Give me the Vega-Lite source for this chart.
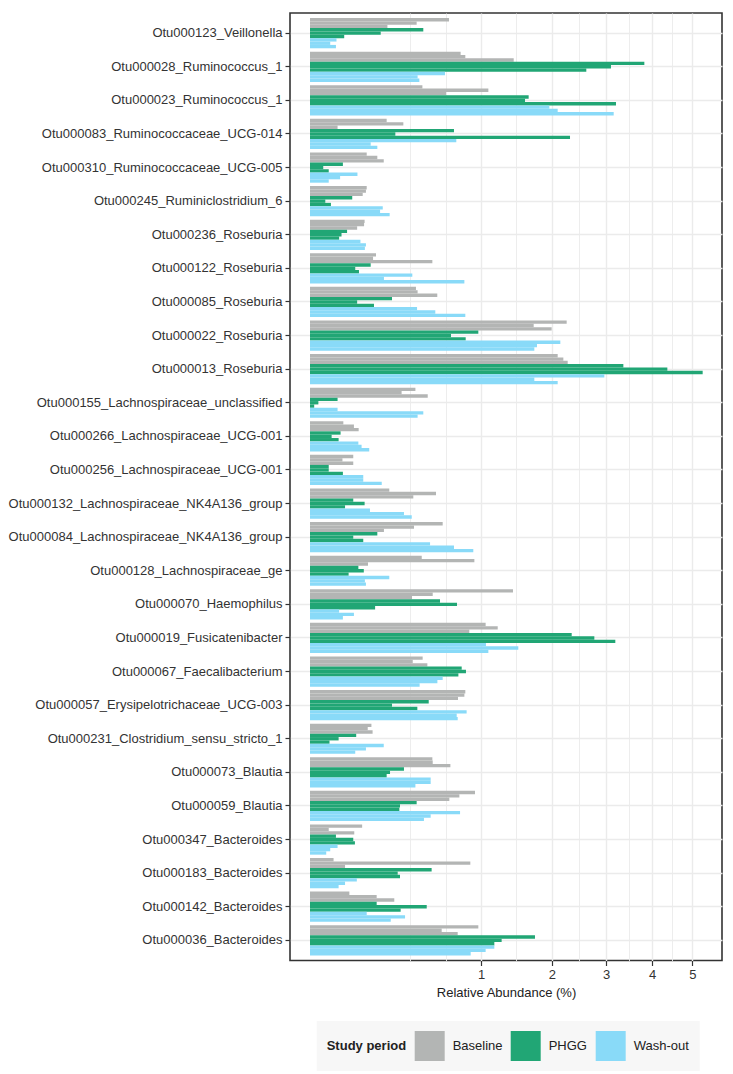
{
  "$schema": "https://vega.github.io/schema/vega-lite/v6.json",
  "width": 432,
  "height": 947.5,
  "autosize": {"type": "none"},
  "padding": {"left": 290, "top": 13, "right": 11, "bottom": 113.5},
  "background": "white",
  "data": {"values": [
    {"otu":"Otu000123_Veillonella","period":"Baseline","sample":"Baseline 1","value":0.661},
    {"otu":"Otu000123_Veillonella","period":"Baseline","sample":"Baseline 2","value":0.389},
    {"otu":"Otu000123_Veillonella","period":"Baseline","sample":"Baseline 3","value":0.205},
    {"otu":"Otu000123_Veillonella","period":"PHGG","sample":"PHGG 1","value":0.439},
    {"otu":"Otu000123_Veillonella","period":"PHGG","sample":"PHGG 2","value":0.171},
    {"otu":"Otu000123_Veillonella","period":"PHGG","sample":"PHGG 3","value":0.040},
    {"otu":"Otu000123_Veillonella","period":"Wash-out","sample":"Wash-out 1","value":0.024},
    {"otu":"Otu000123_Veillonella","period":"Wash-out","sample":"Wash-out 2","value":0.014},
    {"otu":"Otu000123_Veillonella","period":"Wash-out","sample":"Wash-out 3","value":0.023},

    {"otu":"Otu000028_Ruminococcus_1","period":"Baseline","sample":"Baseline 1","value":0.776},
    {"otu":"Otu000028_Ruminococcus_1","period":"Baseline","sample":"Baseline 2","value":0.825},
    {"otu":"Otu000028_Ruminococcus_1","period":"Baseline","sample":"Baseline 3","value":1.419},
    {"otu":"Otu000028_Ruminococcus_1","period":"PHGG","sample":"PHGG 1","value":3.823},
    {"otu":"Otu000028_Ruminococcus_1","period":"PHGG","sample":"PHGG 2","value":3.098},
    {"otu":"Otu000028_Ruminococcus_1","period":"PHGG","sample":"PHGG 3","value":2.611},
    {"otu":"Otu000028_Ruminococcus_1","period":"Wash-out","sample":"Wash-out 1","value":0.623},
    {"otu":"Otu000028_Ruminococcus_1","period":"Wash-out","sample":"Wash-out 2","value":0.396},
    {"otu":"Otu000028_Ruminococcus_1","period":"Wash-out","sample":"Wash-out 3","value":0.409},

    {"otu":"Otu000023_Ruminococcus_1","period":"Baseline","sample":"Baseline 1","value":0.432},
    {"otu":"Otu000023_Ruminococcus_1","period":"Baseline","sample":"Baseline 2","value":1.088},
    {"otu":"Otu000023_Ruminococcus_1","period":"Baseline","sample":"Baseline 3","value":0.633},
    {"otu":"Otu000023_Ruminococcus_1","period":"PHGG","sample":"PHGG 1","value":1.635},
    {"otu":"Otu000023_Ruminococcus_1","period":"PHGG","sample":"PHGG 2","value":1.581},
    {"otu":"Otu000023_Ruminococcus_1","period":"PHGG","sample":"PHGG 3","value":3.202},
    {"otu":"Otu000023_Ruminococcus_1","period":"Wash-out","sample":"Wash-out 1","value":1.959},
    {"otu":"Otu000023_Ruminococcus_1","period":"Wash-out","sample":"Wash-out 2","value":2.098},
    {"otu":"Otu000023_Ruminococcus_1","period":"Wash-out","sample":"Wash-out 3","value":3.154},

    {"otu":"Otu000083_Ruminococcaceae_UCG-014","period":"Baseline","sample":"Baseline 1","value":0.201},
    {"otu":"Otu000083_Ruminococcaceae_UCG-014","period":"Baseline","sample":"Baseline 2","value":0.298},
    {"otu":"Otu000083_Ruminococcaceae_UCG-014","period":"Baseline","sample":"Baseline 3","value":0.026},
    {"otu":"Otu000083_Ruminococcaceae_UCG-014","period":"PHGG","sample":"PHGG 1","value":0.709},
    {"otu":"Otu000083_Ruminococcaceae_UCG-014","period":"PHGG","sample":"PHGG 2","value":0.249},
    {"otu":"Otu000083_Ruminococcaceae_UCG-014","period":"PHGG","sample":"PHGG 3","value":2.312},
    {"otu":"Otu000083_Ruminococcaceae_UCG-014","period":"Wash-out","sample":"Wash-out 1","value":0.732},
    {"otu":"Otu000083_Ruminococcaceae_UCG-014","period":"Wash-out","sample":"Wash-out 2","value":0.126},
    {"otu":"Otu000083_Ruminococcaceae_UCG-014","period":"Wash-out","sample":"Wash-out 3","value":0.155},

    {"otu":"Otu000310_Ruminococcaceae_UCG-005","period":"Baseline","sample":"Baseline 1","value":0.110},
    {"otu":"Otu000310_Ruminococcaceae_UCG-005","period":"Baseline","sample":"Baseline 2","value":0.155},
    {"otu":"Otu000310_Ruminococcaceae_UCG-005","period":"Baseline","sample":"Baseline 3","value":0.186},
    {"otu":"Otu000310_Ruminococcaceae_UCG-005","period":"PHGG","sample":"PHGG 1","value":0.037},
    {"otu":"Otu000310_Ruminococcaceae_UCG-005","period":"PHGG","sample":"PHGG 2","value":0.006},
    {"otu":"Otu000310_Ruminococcaceae_UCG-005","period":"PHGG","sample":"PHGG 3","value":0.012},
    {"otu":"Otu000310_Ruminococcaceae_UCG-005","period":"Wash-out","sample":"Wash-out 1","value":0.077},
    {"otu":"Otu000310_Ruminococcaceae_UCG-005","period":"Wash-out","sample":"Wash-out 2","value":0.031},
    {"otu":"Otu000310_Ruminococcaceae_UCG-005","period":"Wash-out","sample":"Wash-out 3","value":0.012},

    {"otu":"Otu000245_Ruminiclostridium_6","period":"Baseline","sample":"Baseline 1","value":0.110},
    {"otu":"Otu000245_Ruminiclostridium_6","period":"Baseline","sample":"Baseline 2","value":0.107},
    {"otu":"Otu000245_Ruminiclostridium_6","period":"Baseline","sample":"Baseline 3","value":0.095},
    {"otu":"Otu000245_Ruminiclostridium_6","period":"PHGG","sample":"PHGG 1","value":0.061},
    {"otu":"Otu000245_Ruminiclostridium_6","period":"PHGG","sample":"PHGG 2","value":0.008},
    {"otu":"Otu000245_Ruminiclostridium_6","period":"PHGG","sample":"PHGG 3","value":0.015},
    {"otu":"Otu000245_Ruminiclostridium_6","period":"Wash-out","sample":"Wash-out 1","value":0.181},
    {"otu":"Otu000245_Ruminiclostridium_6","period":"Wash-out","sample":"Wash-out 2","value":0.168},
    {"otu":"Otu000245_Ruminiclostridium_6","period":"Wash-out","sample":"Wash-out 3","value":0.217},

    {"otu":"Otu000236_Roseburia","period":"Baseline","sample":"Baseline 1","value":0.102},
    {"otu":"Otu000236_Roseburia","period":"Baseline","sample":"Baseline 2","value":0.100},
    {"otu":"Otu000236_Roseburia","period":"Baseline","sample":"Baseline 3","value":0.076},
    {"otu":"Otu000236_Roseburia","period":"PHGG","sample":"PHGG 1","value":0.047},
    {"otu":"Otu000236_Roseburia","period":"PHGG","sample":"PHGG 2","value":0.034},
    {"otu":"Otu000236_Roseburia","period":"PHGG","sample":"PHGG 3","value":0.029},
    {"otu":"Otu000236_Roseburia","period":"Wash-out","sample":"Wash-out 1","value":0.087},
    {"otu":"Otu000236_Roseburia","period":"Wash-out","sample":"Wash-out 2","value":0.107},
    {"otu":"Otu000236_Roseburia","period":"Wash-out","sample":"Wash-out 3","value":0.103},

    {"otu":"Otu000122_Roseburia","period":"Baseline","sample":"Baseline 1","value":0.149},
    {"otu":"Otu000122_Roseburia","period":"Baseline","sample":"Baseline 2","value":0.136},
    {"otu":"Otu000122_Roseburia","period":"Baseline","sample":"Baseline 3","value":0.512},
    {"otu":"Otu000122_Roseburia","period":"PHGG","sample":"PHGG 1","value":0.126},
    {"otu":"Otu000122_Roseburia","period":"PHGG","sample":"PHGG 2","value":0.070},
    {"otu":"Otu000122_Roseburia","period":"PHGG","sample":"PHGG 3","value":0.082},
    {"otu":"Otu000122_Roseburia","period":"Wash-out","sample":"Wash-out 1","value":0.358},
    {"otu":"Otu000122_Roseburia","period":"Wash-out","sample":"Wash-out 2","value":0.187},
    {"otu":"Otu000122_Roseburia","period":"Wash-out","sample":"Wash-out 3","value":0.815},

    {"otu":"Otu000085_Roseburia","period":"Baseline","sample":"Baseline 1","value":0.384},
    {"otu":"Otu000085_Roseburia","period":"Baseline","sample":"Baseline 2","value":0.396},
    {"otu":"Otu000085_Roseburia","period":"Baseline","sample":"Baseline 3","value":0.554},
    {"otu":"Otu000085_Roseburia","period":"PHGG","sample":"PHGG 1","value":0.230},
    {"otu":"Otu000085_Roseburia","period":"PHGG","sample":"PHGG 2","value":0.076},
    {"otu":"Otu000085_Roseburia","period":"PHGG","sample":"PHGG 3","value":0.140},
    {"otu":"Otu000085_Roseburia","period":"Wash-out","sample":"Wash-out 1","value":0.392},
    {"otu":"Otu000085_Roseburia","period":"Wash-out","sample":"Wash-out 2","value":0.537},
    {"otu":"Otu000085_Roseburia","period":"Wash-out","sample":"Wash-out 3","value":0.825},

    {"otu":"Otu000022_Roseburia","period":"Baseline","sample":"Baseline 1","value":2.253},
    {"otu":"Otu000022_Roseburia","period":"Baseline","sample":"Baseline 2","value":1.711},
    {"otu":"Otu000022_Roseburia","period":"Baseline","sample":"Baseline 3","value":1.997},
    {"otu":"Otu000022_Roseburia","period":"PHGG","sample":"PHGG 1","value":0.969},
    {"otu":"Otu000022_Roseburia","period":"PHGG","sample":"PHGG 2","value":0.680},
    {"otu":"Otu000022_Roseburia","period":"PHGG","sample":"PHGG 3","value":0.829},
    {"otu":"Otu000022_Roseburia","period":"Wash-out","sample":"Wash-out 1","value":2.143},
    {"otu":"Otu000022_Roseburia","period":"Wash-out","sample":"Wash-out 2","value":1.762},
    {"otu":"Otu000022_Roseburia","period":"Wash-out","sample":"Wash-out 3","value":1.721},

    {"otu":"Otu000013_Roseburia","period":"Baseline","sample":"Baseline 1","value":2.098},
    {"otu":"Otu000013_Roseburia","period":"Baseline","sample":"Baseline 2","value":2.195},
    {"otu":"Otu000013_Roseburia","period":"Baseline","sample":"Baseline 3","value":2.271},
    {"otu":"Otu000013_Roseburia","period":"PHGG","sample":"PHGG 1","value":3.358},
    {"otu":"Otu000013_Roseburia","period":"PHGG","sample":"PHGG 2","value":4.367},
    {"otu":"Otu000013_Roseburia","period":"PHGG","sample":"PHGG 3","value":5.273},
    {"otu":"Otu000013_Roseburia","period":"Wash-out","sample":"Wash-out 1","value":2.963},
    {"otu":"Otu000013_Roseburia","period":"Wash-out","sample":"Wash-out 2","value":1.721},
    {"otu":"Otu000013_Roseburia","period":"Wash-out","sample":"Wash-out 3","value":2.098},

    {"otu":"Otu000155_Lachnospiraceae_unclassified","period":"Baseline","sample":"Baseline 1","value":0.380},
    {"otu":"Otu000155_Lachnospiraceae_unclassified","period":"Baseline","sample":"Baseline 2","value":0.287},
    {"otu":"Otu000155_Lachnospiraceae_unclassified","period":"Baseline","sample":"Baseline 3","value":0.474},
    {"otu":"Otu000155_Lachnospiraceae_unclassified","period":"PHGG","sample":"PHGG 1","value":0.026},
    {"otu":"Otu000155_Lachnospiraceae_unclassified","period":"PHGG","sample":"PHGG 2","value":0.0024},
    {"otu":"Otu000155_Lachnospiraceae_unclassified","period":"PHGG","sample":"PHGG 3","value":0.0006},
    {"otu":"Otu000155_Lachnospiraceae_unclassified","period":"Wash-out","sample":"Wash-out 1","value":0.026},
    {"otu":"Otu000155_Lachnospiraceae_unclassified","period":"Wash-out","sample":"Wash-out 2","value":0.439},
    {"otu":"Otu000155_Lachnospiraceae_unclassified","period":"Wash-out","sample":"Wash-out 3","value":0.396},

    {"otu":"Otu000266_Lachnospiraceae_UCG-001","period":"Baseline","sample":"Baseline 1","value":0.038},
    {"otu":"Otu000266_Lachnospiraceae_UCG-001","period":"Baseline","sample":"Baseline 2","value":0.066},
    {"otu":"Otu000266_Lachnospiraceae_UCG-001","period":"Baseline","sample":"Baseline 3","value":0.081},
    {"otu":"Otu000266_Lachnospiraceae_UCG-001","period":"PHGG","sample":"PHGG 1","value":0.032},
    {"otu":"Otu000266_Lachnospiraceae_UCG-001","period":"PHGG","sample":"PHGG 2","value":0.016},
    {"otu":"Otu000266_Lachnospiraceae_UCG-001","period":"PHGG","sample":"PHGG 3","value":0.028},
    {"otu":"Otu000266_Lachnospiraceae_UCG-001","period":"Wash-out","sample":"Wash-out 1","value":0.080},
    {"otu":"Otu000266_Lachnospiraceae_UCG-001","period":"Wash-out","sample":"Wash-out 2","value":0.091},
    {"otu":"Otu000266_Lachnospiraceae_UCG-001","period":"Wash-out","sample":"Wash-out 3","value":0.120},

    {"otu":"Otu000256_Lachnospiraceae_UCG-001","period":"Baseline","sample":"Baseline 1","value":0.064},
    {"otu":"Otu000256_Lachnospiraceae_UCG-001","period":"Baseline","sample":"Baseline 2","value":0.036},
    {"otu":"Otu000256_Lachnospiraceae_UCG-001","period":"Baseline","sample":"Baseline 3","value":0.064},
    {"otu":"Otu000256_Lachnospiraceae_UCG-001","period":"PHGG","sample":"PHGG 1","value":0.012},
    {"otu":"Otu000256_Lachnospiraceae_UCG-001","period":"PHGG","sample":"PHGG 2","value":0.012},
    {"otu":"Otu000256_Lachnospiraceae_UCG-001","period":"PHGG","sample":"PHGG 3","value":0.037},
    {"otu":"Otu000256_Lachnospiraceae_UCG-001","period":"Wash-out","sample":"Wash-out 1","value":0.097},
    {"otu":"Otu000256_Lachnospiraceae_UCG-001","period":"Wash-out","sample":"Wash-out 2","value":0.097},
    {"otu":"Otu000256_Lachnospiraceae_UCG-001","period":"Wash-out","sample":"Wash-out 3","value":0.176},

    {"otu":"Otu000132_Lachnospiraceae_NK4A136_group","period":"Baseline","sample":"Baseline 1","value":0.215},
    {"otu":"Otu000132_Lachnospiraceae_NK4A136_group","period":"Baseline","sample":"Baseline 2","value":0.543},
    {"otu":"Otu000132_Lachnospiraceae_NK4A136_group","period":"Baseline","sample":"Baseline 3","value":0.365},
    {"otu":"Otu000132_Lachnospiraceae_NK4A136_group","period":"PHGG","sample":"PHGG 1","value":0.064},
    {"otu":"Otu000132_Lachnospiraceae_NK4A136_group","period":"PHGG","sample":"PHGG 2","value":0.102},
    {"otu":"Otu000132_Lachnospiraceae_NK4A136_group","period":"PHGG","sample":"PHGG 3","value":0.042},
    {"otu":"Otu000132_Lachnospiraceae_NK4A136_group","period":"Wash-out","sample":"Wash-out 1","value":0.123},
    {"otu":"Otu000132_Lachnospiraceae_NK4A136_group","period":"Wash-out","sample":"Wash-out 2","value":0.302},
    {"otu":"Otu000132_Lachnospiraceae_NK4A136_group","period":"Wash-out","sample":"Wash-out 3","value":0.354},

    {"otu":"Otu000084_Lachnospiraceae_NK4A136_group","period":"Baseline","sample":"Baseline 1","value":0.602},
    {"otu":"Otu000084_Lachnospiraceae_NK4A136_group","period":"Baseline","sample":"Baseline 2","value":0.370},
    {"otu":"Otu000084_Lachnospiraceae_NK4A136_group","period":"Baseline","sample":"Baseline 3","value":0.187},
    {"otu":"Otu000084_Lachnospiraceae_NK4A136_group","period":"PHGG","sample":"PHGG 1","value":0.155},
    {"otu":"Otu000084_Lachnospiraceae_NK4A136_group","period":"PHGG","sample":"PHGG 2","value":0.064},
    {"otu":"Otu000084_Lachnospiraceae_NK4A136_group","period":"PHGG","sample":"PHGG 3","value":0.097},
    {"otu":"Otu000084_Lachnospiraceae_NK4A136_group","period":"Wash-out","sample":"Wash-out 1","value":0.493},
    {"otu":"Otu000084_Lachnospiraceae_NK4A136_group","period":"Wash-out","sample":"Wash-out 2","value":0.709},
    {"otu":"Otu000084_Lachnospiraceae_NK4A136_group","period":"Wash-out","sample":"Wash-out 3","value":0.912},

    {"otu":"Otu000128_Lachnospiraceae_ge","period":"Baseline","sample":"Baseline 1","value":0.427},
    {"otu":"Otu000128_Lachnospiraceae_ge","period":"Baseline","sample":"Baseline 2","value":0.924},
    {"otu":"Otu000128_Lachnospiraceae_ge","period":"Baseline","sample":"Baseline 3","value":0.115},
    {"otu":"Otu000128_Lachnospiraceae_ge","period":"PHGG","sample":"PHGG 1","value":0.080},
    {"otu":"Otu000128_Lachnospiraceae_ge","period":"PHGG","sample":"PHGG 2","value":0.099},
    {"otu":"Otu000128_Lachnospiraceae_ge","period":"PHGG","sample":"PHGG 3","value":0.051},
    {"otu":"Otu000128_Lachnospiraceae_ge","period":"Wash-out","sample":"Wash-out 1","value":0.215},
    {"otu":"Otu000128_Lachnospiraceae_ge","period":"Wash-out","sample":"Wash-out 2","value":0.103},
    {"otu":"Otu000128_Lachnospiraceae_ge","period":"Wash-out","sample":"Wash-out 3","value":0.107},

    {"otu":"Otu000070_Haemophilus","period":"Baseline","sample":"Baseline 1","value":1.409},
    {"otu":"Otu000070_Haemophilus","period":"Baseline","sample":"Baseline 2","value":0.515},
    {"otu":"Otu000070_Haemophilus","period":"Baseline","sample":"Baseline 3","value":0.356},
    {"otu":"Otu000070_Haemophilus","period":"PHGG","sample":"PHGG 1","value":0.578},
    {"otu":"Otu000070_Haemophilus","period":"PHGG","sample":"PHGG 2","value":0.739},
    {"otu":"Otu000070_Haemophilus","period":"PHGG","sample":"PHGG 3","value":0.145},
    {"otu":"Otu000070_Haemophilus","period":"Wash-out","sample":"Wash-out 1","value":0.029},
    {"otu":"Otu000070_Haemophilus","period":"Wash-out","sample":"Wash-out 2","value":0.066},
    {"otu":"Otu000070_Haemophilus","period":"Wash-out","sample":"Wash-out 3","value":0.037},

    {"otu":"Otu000019_Fusicatenibacter","period":"Baseline","sample":"Baseline 1","value":1.055},
    {"otu":"Otu000019_Fusicatenibacter","period":"Baseline","sample":"Baseline 2","value":1.205},
    {"otu":"Otu000019_Fusicatenibacter","period":"Baseline","sample":"Baseline 3","value":0.868},
    {"otu":"Otu000019_Fusicatenibacter","period":"PHGG","sample":"PHGG 1","value":2.342},
    {"otu":"Otu000019_Fusicatenibacter","period":"PHGG","sample":"PHGG 2","value":2.765},
    {"otu":"Otu000019_Fusicatenibacter","period":"PHGG","sample":"PHGG 3","value":3.188},
    {"otu":"Otu000019_Fusicatenibacter","period":"Wash-out","sample":"Wash-out 1","value":1.059},
    {"otu":"Otu000019_Fusicatenibacter","period":"Wash-out","sample":"Wash-out 2","value":1.484},
    {"otu":"Otu000019_Fusicatenibacter","period":"Wash-out","sample":"Wash-out 3","value":1.088},

    {"otu":"Otu000067_Faecalibacterium","period":"Baseline","sample":"Baseline 1","value":0.434},
    {"otu":"Otu000067_Faecalibacterium","period":"Baseline","sample":"Baseline 2","value":0.361},
    {"otu":"Otu000067_Faecalibacterium","period":"Baseline","sample":"Baseline 3","value":0.471},
    {"otu":"Otu000067_Faecalibacterium","period":"PHGG","sample":"PHGG 1","value":0.787},
    {"otu":"Otu000067_Faecalibacterium","period":"PHGG","sample":"PHGG 2","value":0.832},
    {"otu":"Otu000067_Faecalibacterium","period":"PHGG","sample":"PHGG 3","value":0.753},
    {"otu":"Otu000067_Faecalibacterium","period":"Wash-out","sample":"Wash-out 1","value":0.602},
    {"otu":"Otu000067_Faecalibacterium","period":"Wash-out","sample":"Wash-out 2","value":0.555},
    {"otu":"Otu000067_Faecalibacterium","period":"Wash-out","sample":"Wash-out 3","value":0.411},

    {"otu":"Otu000057_Erysipelotrichaceae_UCG-003","period":"Baseline","sample":"Baseline 1","value":0.825},
    {"otu":"Otu000057_Erysipelotrichaceae_UCG-003","period":"Baseline","sample":"Baseline 2","value":0.815},
    {"otu":"Otu000057_Erysipelotrichaceae_UCG-003","period":"Baseline","sample":"Baseline 3","value":0.749},
    {"otu":"Otu000057_Erysipelotrichaceae_UCG-003","period":"PHGG","sample":"PHGG 1","value":0.482},
    {"otu":"Otu000057_Erysipelotrichaceae_UCG-003","period":"PHGG","sample":"PHGG 2","value":0.230},
    {"otu":"Otu000057_Erysipelotrichaceae_UCG-003","period":"PHGG","sample":"PHGG 3","value":0.394},
    {"otu":"Otu000057_Erysipelotrichaceae_UCG-003","period":"Wash-out","sample":"Wash-out 1","value":0.839},
    {"otu":"Otu000057_Erysipelotrichaceae_UCG-003","period":"Wash-out","sample":"Wash-out 2","value":0.736},
    {"otu":"Otu000057_Erysipelotrichaceae_UCG-003","period":"Wash-out","sample":"Wash-out 3","value":0.746},

    {"otu":"Otu000231_Clostridium_sensu_stricto_1","period":"Baseline","sample":"Baseline 1","value":0.129},
    {"otu":"Otu000231_Clostridium_sensu_stricto_1","period":"Baseline","sample":"Baseline 2","value":0.114},
    {"otu":"Otu000231_Clostridium_sensu_stricto_1","period":"Baseline","sample":"Baseline 3","value":0.134},
    {"otu":"Otu000231_Clostridium_sensu_stricto_1","period":"PHGG","sample":"PHGG 1","value":0.073},
    {"otu":"Otu000231_Clostridium_sensu_stricto_1","period":"PHGG","sample":"PHGG 2","value":0.028},
    {"otu":"Otu000231_Clostridium_sensu_stricto_1","period":"PHGG","sample":"PHGG 3","value":0.013},
    {"otu":"Otu000231_Clostridium_sensu_stricto_1","period":"Wash-out","sample":"Wash-out 1","value":0.186},
    {"otu":"Otu000231_Clostridium_sensu_stricto_1","period":"Wash-out","sample":"Wash-out 2","value":0.107},
    {"otu":"Otu000231_Clostridium_sensu_stricto_1","period":"Wash-out","sample":"Wash-out 3","value":0.070},

    {"otu":"Otu000073_Blautia","period":"Baseline","sample":"Baseline 1","value":0.512},
    {"otu":"Otu000073_Blautia","period":"Baseline","sample":"Baseline 2","value":0.515},
    {"otu":"Otu000073_Blautia","period":"Baseline","sample":"Baseline 3","value":0.674},
    {"otu":"Otu000073_Blautia","period":"PHGG","sample":"PHGG 1","value":0.302},
    {"otu":"Otu000073_Blautia","period":"PHGG","sample":"PHGG 2","value":0.219},
    {"otu":"Otu000073_Blautia","period":"PHGG","sample":"PHGG 3","value":0.201},
    {"otu":"Otu000073_Blautia","period":"Wash-out","sample":"Wash-out 1","value":0.498},
    {"otu":"Otu000073_Blautia","period":"Wash-out","sample":"Wash-out 2","value":0.498},
    {"otu":"Otu000073_Blautia","period":"Wash-out","sample":"Wash-out 3","value":0.380},

    {"otu":"Otu000059_Blautia","period":"Baseline","sample":"Baseline 1","value":0.931},
    {"otu":"Otu000059_Blautia","period":"Baseline","sample":"Baseline 2","value":0.763},
    {"otu":"Otu000059_Blautia","period":"Baseline","sample":"Baseline 3","value":0.664},
    {"otu":"Otu000059_Blautia","period":"PHGG","sample":"PHGG 1","value":0.389},
    {"otu":"Otu000059_Blautia","period":"PHGG","sample":"PHGG 2","value":0.277},
    {"otu":"Otu000059_Blautia","period":"PHGG","sample":"PHGG 3","value":0.273},
    {"otu":"Otu000059_Blautia","period":"Wash-out","sample":"Wash-out 1","value":0.770},
    {"otu":"Otu000059_Blautia","period":"Wash-out","sample":"Wash-out 2","value":0.498},
    {"otu":"Otu000059_Blautia","period":"Wash-out","sample":"Wash-out 3","value":0.444},

    {"otu":"Otu000347_Bacteroides","period":"Baseline","sample":"Baseline 1","value":0.093},
    {"otu":"Otu000347_Bacteroides","period":"Baseline","sample":"Baseline 2","value":0.012},
    {"otu":"Otu000347_Bacteroides","period":"Baseline","sample":"Baseline 3","value":0.067},
    {"otu":"Otu000347_Bacteroides","period":"PHGG","sample":"PHGG 1","value":0.023},
    {"otu":"Otu000347_Bacteroides","period":"PHGG","sample":"PHGG 2","value":0.064},
    {"otu":"Otu000347_Bacteroides","period":"PHGG","sample":"PHGG 3","value":0.069},
    {"otu":"Otu000347_Bacteroides","period":"Wash-out","sample":"Wash-out 1","value":0.026},
    {"otu":"Otu000347_Bacteroides","period":"Wash-out","sample":"Wash-out 2","value":0.014},
    {"otu":"Otu000347_Bacteroides","period":"Wash-out","sample":"Wash-out 3","value":0.009},

    {"otu":"Otu000183_Bacteroides","period":"Baseline","sample":"Baseline 1","value":0.019},
    {"otu":"Otu000183_Bacteroides","period":"Baseline","sample":"Baseline 2","value":0.879},
    {"otu":"Otu000183_Bacteroides","period":"Baseline","sample":"Baseline 3","value":0.042},
    {"otu":"Otu000183_Bacteroides","period":"PHGG","sample":"PHGG 1","value":0.506},
    {"otu":"Otu000183_Bacteroides","period":"PHGG","sample":"PHGG 2","value":0.263},
    {"otu":"Otu000183_Bacteroides","period":"PHGG","sample":"PHGG 3","value":0.277},
    {"otu":"Otu000183_Bacteroides","period":"Wash-out","sample":"Wash-out 1","value":0.075},
    {"otu":"Otu000183_Bacteroides","period":"Wash-out","sample":"Wash-out 2","value":0.042},
    {"otu":"Otu000183_Bacteroides","period":"Wash-out","sample":"Wash-out 3","value":0.028},

    {"otu":"Otu000142_Bacteroides","period":"Baseline","sample":"Baseline 1","value":0.053},
    {"otu":"Otu000142_Bacteroides","period":"Baseline","sample":"Baseline 2","value":0.152},
    {"otu":"Otu000142_Bacteroides","period":"Baseline","sample":"Baseline 3","value":0.243},
    {"otu":"Otu000142_Bacteroides","period":"PHGG","sample":"PHGG 1","value":0.152},
    {"otu":"Otu000142_Bacteroides","period":"PHGG","sample":"PHGG 2","value":0.466},
    {"otu":"Otu000142_Bacteroides","period":"PHGG","sample":"PHGG 3","value":0.281},
    {"otu":"Otu000142_Bacteroides","period":"Wash-out","sample":"Wash-out 1","value":0.110},
    {"otu":"Otu000142_Bacteroides","period":"Wash-out","sample":"Wash-out 2","value":0.309},
    {"otu":"Otu000142_Bacteroides","period":"Wash-out","sample":"Wash-out 3","value":0.223},

    {"otu":"Otu000036_Bacteroides","period":"Baseline","sample":"Baseline 1","value":0.969},
    {"otu":"Otu000036_Bacteroides","period":"Baseline","sample":"Baseline 2","value":0.593},
    {"otu":"Otu000036_Bacteroides","period":"Baseline","sample":"Baseline 3","value":0.746},
    {"otu":"Otu000036_Bacteroides","period":"PHGG","sample":"PHGG 1","value":1.731},
    {"otu":"Otu000036_Bacteroides","period":"PHGG","sample":"PHGG 2","value":1.256},
    {"otu":"Otu000036_Bacteroides","period":"PHGG","sample":"PHGG 3","value":1.162},
    {"otu":"Otu000036_Bacteroides","period":"Wash-out","sample":"Wash-out 1","value":1.162},
    {"otu":"Otu000036_Bacteroides","period":"Wash-out","sample":"Wash-out 2","value":1.055},
    {"otu":"Otu000036_Bacteroides","period":"Wash-out","sample":"Wash-out 3","value":0.883}
  ]},
  "mark": {"type": "bar"},
  "encoding": {
    "y": {
      "field": "otu", "type": "nominal",
      "sort": ["Otu000123_Veillonella","Otu000028_Ruminococcus_1","Otu000023_Ruminococcus_1","Otu000083_Ruminococcaceae_UCG-014","Otu000310_Ruminococcaceae_UCG-005","Otu000245_Ruminiclostridium_6","Otu000236_Roseburia","Otu000122_Roseburia","Otu000085_Roseburia","Otu000022_Roseburia","Otu000013_Roseburia","Otu000155_Lachnospiraceae_unclassified","Otu000266_Lachnospiraceae_UCG-001","Otu000256_Lachnospiraceae_UCG-001","Otu000132_Lachnospiraceae_NK4A136_group","Otu000084_Lachnospiraceae_NK4A136_group","Otu000128_Lachnospiraceae_ge","Otu000070_Haemophilus","Otu000019_Fusicatenibacter","Otu000067_Faecalibacterium","Otu000057_Erysipelotrichaceae_UCG-003","Otu000231_Clostridium_sensu_stricto_1","Otu000073_Blautia","Otu000059_Blautia","Otu000347_Bacteroides","Otu000183_Bacteroides","Otu000142_Bacteroides","Otu000036_Bacteroides"],
      "scale": {"paddingInner": 0.1, "paddingOuter": 0.15},
      "axis": {
        "title": null, "bandPosition": 0.5, "grid": true, "gridColor": "#EBEBEB", "gridWidth": 1.4,
        "domain": false, "tickSize": 5, "tickColor": "#333333", "tickWidth": 1.2,
        "labelFontSize": 13, "labelColor": "#333333", "labelPadding": 3, "labelLimit": 400
      }
    },
    "yOffset": {
      "field": "sample", "type": "nominal",
      "sort": ["Baseline 1","Baseline 2","Baseline 3","PHGG 1","PHGG 2","PHGG 3","Wash-out 1","Wash-out 2","Wash-out 3"],
      "scale": {"paddingInner": 0, "paddingOuter": 0}
    },
    "x": {
      "field": "value", "type": "quantitative", "stack": null,
      "scale": {"type": "sqrt", "domain": [-0.01368, 5.805], "zero": false, "nice": false},
      "axis": {
        "title": "Relative Abundance (%)", "titleFontSize": 13, "titleFontWeight": "normal", "titleColor": "#222222", "titlePadding": 5,
        "values": [0.342, 0.628, 1, 1.457, 2, 2.475, 3, 3.482, 4, 4.486, 5],
        "labelExpr": "datum.value % 1 === 0 ? format(datum.value, 'd') : ''",
        "labelFontSize": 13, "labelColor": "#333333", "labelPadding": 3,
        "tickSize": 5, "tickColor": "#333333", "tickWidth": 1.2,
        "tickOpacity": {"condition": {"test": "datum.value % 1 !== 0", "value": 0}, "value": 1},
        "grid": true, "gridColor": "#EBEBEB",
        "gridWidth": {"condition": {"test": "datum.value % 1 !== 0", "value": 0.9}, "value": 1.4},
        "domain": false
      }
    },
    "color": {
      "field": "period", "type": "nominal",
      "scale": {"domain": ["Baseline","PHGG","Wash-out"], "range": ["#B3B5B4","#21A675","#89DAF8"]},
      "legend": {
        "orient": "none", "legendX": 26.7, "legendY": 1008, "direction": "horizontal",
        "title": "Study period", "titleOrient": "left", "titleFontSize": 13, "titleFontWeight": "bold", "titleColor": "#222222", "titlePadding": 8, "titleAnchor": "middle",
        "labelFontSize": 13, "labelColor": "#222222", "labelOffset": 8, "columnPadding": 8,
        "symbolType": "square", "symbolSize": 900, "symbolStrokeWidth": 0,
        "fillColor": "#F7F7F7", "padding": 10
      }
    }
  },
  "config": {
    "font": "Liberation Sans",
    "view": {"stroke": "#333333", "strokeWidth": 1.6}
  }
}
